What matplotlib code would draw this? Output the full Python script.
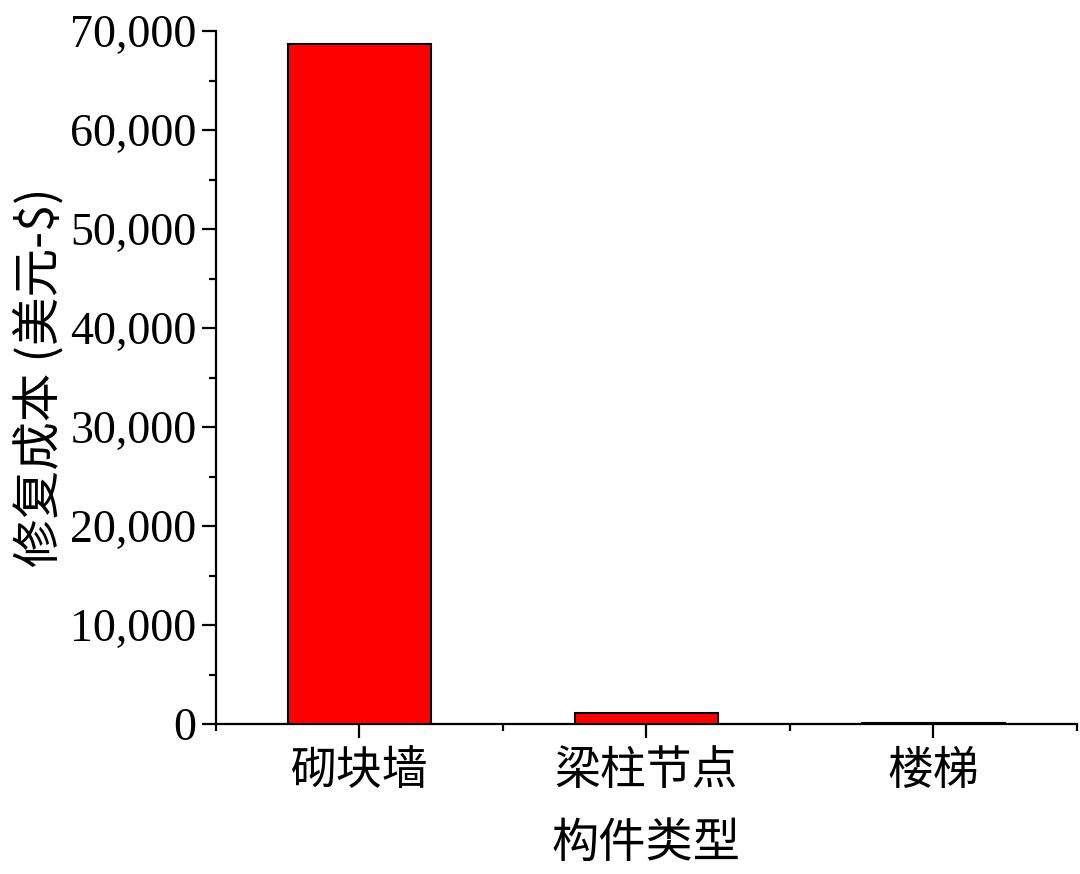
import matplotlib
matplotlib.use("Agg")
import matplotlib.pyplot as plt
from matplotlib.ticker import FuncFormatter, MultipleLocator, FixedLocator

categories = ["砌块墙", "梁柱节点", "楼梯"]
costs = [68700, 1150, 100]
y_ticks = [0, 10000, 20000, 30000, 40000, 50000, 60000, 70000]

fig = plt.figure(figsize=(10.8, 8.74), dpi=100)
ax = fig.add_axes([0.2, 0.1716, 0.797, 0.7929])

x = list(range(1, len(categories) + 1))
ax.bar(x, costs, width=0.5, color="#ff0000", edgecolor="black", linewidth=1.5, zorder=3)

ax.set_xlim(0.5, 3.5)
ax.set_ylim(0, 70000)
ax.yaxis.set_major_locator(FixedLocator(y_ticks))
ax.yaxis.set_minor_locator(MultipleLocator(5000))
ax.yaxis.set_major_formatter(FuncFormatter(lambda v, p: f"{int(v):,}"))
ax.xaxis.set_major_locator(FixedLocator(x))
ax.xaxis.set_minor_locator(FixedLocator([0.5, 1.5, 2.5, 3.5]))
ax.set_xticklabels(categories, fontfamily=["Noto Sans CJK SC"], fontsize=33)

for lbl in ax.get_yticklabels():
    lbl.set_fontfamily("Liberation Serif")
    lbl.set_fontsize(33)

for s in ["top", "right"]:
    ax.spines[s].set_visible(False)
for s in ["left", "bottom"]:
    ax.spines[s].set_linewidth(1.6)

ax.tick_params(axis="both", which="major", direction="out", length=10, width=1.6)
ax.tick_params(axis="both", which="minor", direction="out", length=5, width=1.6)
ax.tick_params(axis="y", pad=4)
ax.tick_params(axis="x", pad=6)

ax.set_xlabel("构件类型", fontfamily=["Noto Sans CJK SC"], fontsize=34, labelpad=18)
ax.set_ylabel("修复成本 (美元-$)", fontfamily=["Noto Sans CJK SC", "DejaVu Sans"], fontsize=35, labelpad=4)

fig.savefig("out.png", dpi=100)
